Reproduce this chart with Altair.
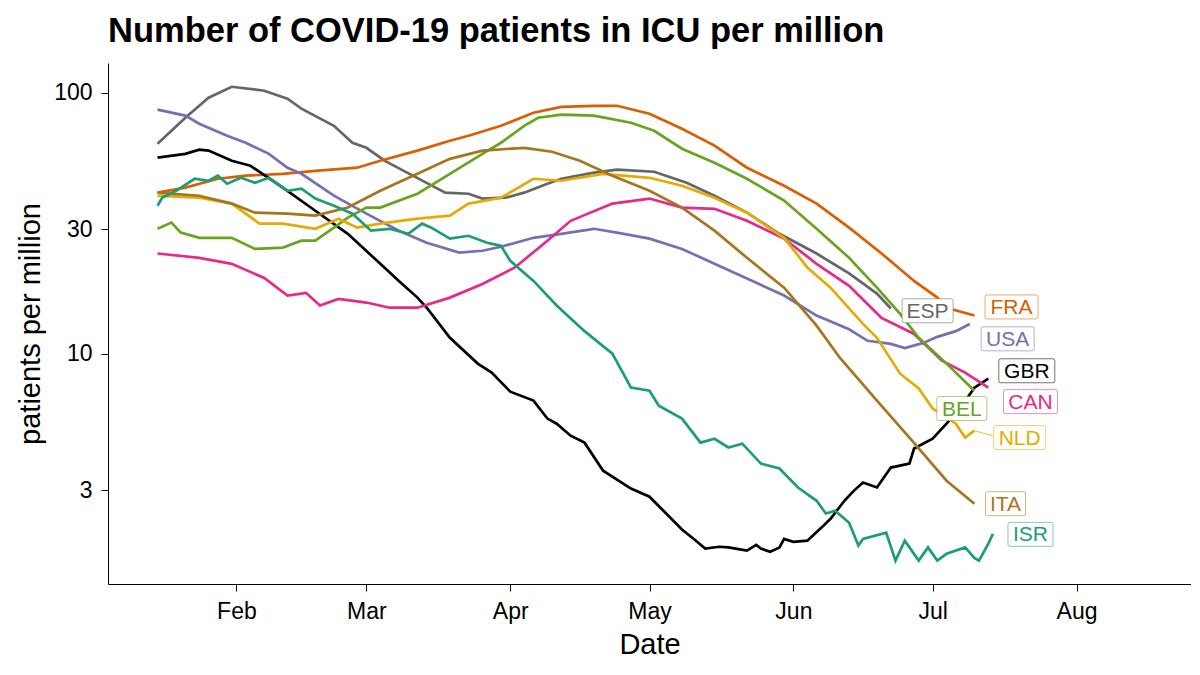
import altair as alt
import pandas as pd

countries = ["ESP", "FRA", "USA", "GBR", "CAN", "BEL", "NLD", "ITA", "ISR"]
colors = ["#666666", "#d95f02", "#7570b3", "#000000", "#e7298a", "#66a61e", "#e6ab02", "#a6761d", "#1b9e77"]

esp_dates = ["2021-01-15", "2021-01-21", "2021-01-26", "2021-01-31", "2021-02-07", "2021-02-12", "2021-02-15",
             "2021-02-22", "2021-02-26", "2021-03-01", "2021-03-05", "2021-03-11", "2021-03-18", "2021-03-23",
             "2021-03-26", "2021-03-31", "2021-04-04", "2021-04-09", "2021-04-12", "2021-04-19", "2021-04-24",
             "2021-05-02", "2021-05-09", "2021-05-15", "2021-05-22", "2021-05-29", "2021-06-06", "2021-06-13",
             "2021-06-19", "2021-06-22"]
esp_vals = [63.8, 80.2, 95.7, 105.4, 101.8, 94.9, 86.9, 74.7, 64.3, 61.5, 54.8, 48.1, 41.4, 41.0, 39.3, 39.6,
            41.4, 44.8, 46.8, 49.4, 50.7, 49.8, 45.2, 40.3, 34.7, 28.8, 24.2, 20.3, 17.0, 14.9]

usa_dates = ["2021-01-15", "2021-01-21", "2021-01-24", "2021-01-30", "2021-02-03", "2021-02-08", "2021-02-12",
             "2021-02-15", "2021-02-22", "2021-03-01", "2021-03-08", "2021-03-14", "2021-03-21", "2021-03-26",
             "2021-03-30", "2021-04-06", "2021-04-12", "2021-04-19", "2021-04-24", "2021-05-01", "2021-05-08",
             "2021-05-15", "2021-05-22", "2021-05-30", "2021-06-06", "2021-06-13", "2021-06-17", "2021-06-22",
             "2021-06-25", "2021-06-29", "2021-07-02", "2021-07-06", "2021-07-09"]
usa_vals = [86.1, 81.7, 76.1, 68.4, 64.3, 58.3, 51.6, 48.9, 40.3, 34.4, 29.6, 26.6, 24.4, 24.8, 25.7, 27.8,
            28.8, 30.1, 29.1, 27.6, 25.2, 22.1, 19.4, 16.7, 14.0, 12.4, 11.2, 10.9, 10.5, 11.0, 11.6, 12.2, 13.0]

fra_dates = ["2021-01-15", "2021-01-21", "2021-01-28", "2021-02-03", "2021-02-11", "2021-02-18", "2021-02-27",
             "2021-03-04", "2021-03-12", "2021-03-19", "2021-03-23", "2021-03-30", "2021-04-06", "2021-04-12",
             "2021-04-19", "2021-04-24", "2021-05-01", "2021-05-08", "2021-05-15", "2021-05-22", "2021-05-30",
             "2021-06-06", "2021-06-13", "2021-06-20", "2021-06-27", "2021-07-02", "2021-07-04", "2021-07-10"]
fra_vals = [41.4, 43.3, 46.8, 48.1, 48.9, 50.2, 51.6, 54.9, 60.0, 65.5, 68.4, 74.7, 83.8, 88.3, 89.1, 89.1,
            83.1, 72.8, 62.7, 51.6, 44.0, 37.6, 30.4, 24.2, 19.0, 16.4, 15.0, 14.0]

bel_dates = ["2021-01-15", "2021-01-18", "2021-01-20", "2021-01-24", "2021-01-31", "2021-02-05", "2021-02-11",
             "2021-02-15", "2021-02-18", "2021-02-22", "2021-02-25", "2021-03-01", "2021-03-04", "2021-03-12",
             "2021-03-19", "2021-03-26", "2021-03-30", "2021-04-04", "2021-04-07", "2021-04-12", "2021-04-19",
             "2021-04-27", "2021-05-02", "2021-05-08", "2021-05-15", "2021-05-22", "2021-05-30", "2021-06-06",
             "2021-06-13", "2021-06-19", "2021-06-24", "2021-06-28", "2021-07-04", "2021-07-10"]
bel_vals = [30.1, 31.8, 29.1, 27.8, 27.8, 25.2, 25.5, 27.1, 27.1, 30.4, 33.2, 36.3, 36.3, 41.0, 48.9, 58.3,
            64.3, 74.7, 80.2, 82.4, 81.7, 76.7, 71.5, 61.0, 53.9, 46.8, 38.6, 30.1, 23.3, 17.9, 14.2, 11.5,
            9.16, 7.21]

ita_dates = ["2021-01-15", "2021-01-24", "2021-01-31", "2021-02-05", "2021-02-12", "2021-02-18", "2021-02-25",
             "2021-03-04", "2021-03-12", "2021-03-19", "2021-03-26", "2021-04-04", "2021-04-10", "2021-04-16",
             "2021-04-23", "2021-05-01", "2021-05-08", "2021-05-15", "2021-05-22", "2021-05-30", "2021-06-06",
             "2021-06-11", "2021-06-19", "2021-06-26", "2021-07-04", "2021-07-10"]
ita_vals = [41.4, 40.3, 37.6, 34.7, 34.4, 33.8, 36.3, 42.1, 48.9, 55.8, 60.0, 61.5, 59.4, 54.9, 48.1, 42.1,
            36.3, 29.6, 23.3, 17.9, 12.8, 9.65, 6.61, 4.77, 3.26, 2.66]

nld_dates = ["2021-01-15", "2021-01-24", "2021-01-31", "2021-02-06", "2021-02-11", "2021-02-18", "2021-02-23",
             "2021-02-27", "2021-03-04", "2021-03-12", "2021-03-19", "2021-03-23", "2021-03-30", "2021-04-06",
             "2021-04-12", "2021-04-21", "2021-05-01", "2021-05-08", "2021-05-15", "2021-05-22", "2021-05-30",
             "2021-06-04", "2021-06-09", "2021-06-16", "2021-06-19", "2021-06-24", "2021-06-28", "2021-07-01",
             "2021-07-06", "2021-07-08", "2021-07-10"]
nld_vals = [40.3, 39.6, 37.6, 31.5, 31.5, 30.1, 32.9, 30.4, 31.5, 32.9, 33.8, 37.6, 39.6, 46.8, 46.0, 48.9,
            47.2, 44.0, 39.6, 34.7, 27.8, 21.4, 17.9, 13.0, 11.5, 8.38, 7.35, 6.16, 5.39, 4.77, 5.07]

can_dates = ["2021-01-15", "2021-01-24", "2021-01-31", "2021-02-07", "2021-02-12", "2021-02-16", "2021-02-19",
             "2021-02-23", "2021-03-01", "2021-03-06", "2021-03-12", "2021-03-19", "2021-03-26", "2021-04-02",
             "2021-04-09", "2021-04-14", "2021-04-23", "2021-05-01", "2021-05-08", "2021-05-15", "2021-05-22",
             "2021-05-30", "2021-06-06", "2021-06-13", "2021-06-20", "2021-06-27", "2021-07-03", "2021-07-08",
             "2021-07-13"]
can_vals = [24.2, 23.3, 22.1, 19.5, 16.7, 17.1, 15.3, 16.2, 15.7, 15.0, 15.0, 16.4, 18.5, 21.4, 27.1, 32.3,
            37.6, 39.3, 36.3, 35.9, 32.3, 27.6, 22.1, 18.2, 13.7, 11.9, 9.40, 8.46, 7.41]

gbr_dates = ["2021-01-15", "2021-01-21", "2021-01-24", "2021-01-26", "2021-01-31", "2021-02-04", "2021-02-11",
             "2021-02-18", "2021-02-25", "2021-03-04", "2021-03-08", "2021-03-12", "2021-03-14", "2021-03-19",
             "2021-03-25", "2021-03-28", "2021-04-01", "2021-04-06", "2021-04-09", "2021-04-11", "2021-04-14",
             "2021-04-17", "2021-04-21", "2021-04-27", "2021-05-01", "2021-05-04", "2021-05-08", "2021-05-11",
             "2021-05-13", "2021-05-16", "2021-05-18", "2021-05-22", "2021-05-24", "2021-05-25", "2021-05-27",
             "2021-05-29", "2021-05-30", "2021-06-01", "2021-06-04", "2021-06-07", "2021-06-09", "2021-06-12",
             "2021-06-14", "2021-06-16", "2021-06-19", "2021-06-22", "2021-06-26", "2021-06-27", "2021-07-01",
             "2021-07-04", "2021-07-07", "2021-07-10", "2021-07-13"]
gbr_vals = [56.4, 58.3, 60.5, 60.0, 54.9, 52.5, 43.3, 35.3, 28.8, 22.1, 19.0, 16.4, 15.0, 11.5, 9.16, 8.46,
            7.15, 6.61, 5.64, 5.39, 4.85, 4.56, 3.56, 3.04, 2.83, 2.50, 2.12, 1.92, 1.79, 1.82, 1.81, 1.76,
            1.85, 1.79, 1.74, 1.81, 1.95, 1.90, 1.92, 2.15, 2.33, 2.73, 2.98, 3.21, 3.07, 3.66, 3.79, 4.33,
            4.72, 5.39, 6.21, 7.41, 8.02]

isr_dates = ["2021-01-15", "2021-01-16", "2021-01-19", "2021-01-23", "2021-01-26", "2021-01-28", "2021-01-30",
             "2021-02-02", "2021-02-05", "2021-02-08", "2021-02-12", "2021-02-15", "2021-02-18", "2021-02-22",
             "2021-02-26", "2021-03-02", "2021-03-06", "2021-03-10", "2021-03-13", "2021-03-15", "2021-03-19",
             "2021-03-23", "2021-03-27", "2021-03-30", "2021-04-01", "2021-04-06", "2021-04-11", "2021-04-17",
             "2021-04-23", "2021-04-27", "2021-05-01", "2021-05-03", "2021-05-08", "2021-05-12", "2021-05-15",
             "2021-05-18", "2021-05-21", "2021-05-25", "2021-05-29", "2021-06-02", "2021-06-06", "2021-06-08",
             "2021-06-10", "2021-06-13", "2021-06-15", "2021-06-16", "2021-06-21", "2021-06-23", "2021-06-25",
             "2021-06-28", "2021-06-30", "2021-07-02", "2021-07-04", "2021-07-08", "2021-07-10", "2021-07-11",
             "2021-07-13", "2021-07-14"]
isr_vals = [36.9, 39.6, 42.1, 46.8, 46.0, 48.1, 44.8, 47.2, 45.2, 47.2, 42.1, 42.9, 39.3, 36.9, 34.4, 29.6,
            30.1, 28.8, 31.5, 30.4, 27.6, 28.3, 26.6, 25.9, 22.7, 19.0, 15.3, 12.2, 10.0, 7.41, 7.21, 6.32,
            5.64, 4.56, 4.72, 4.37, 4.52, 3.79, 3.63, 3.07, 2.73, 2.44, 2.50, 2.25, 1.84, 1.95, 2.06, 1.61,
            1.92, 1.61, 1.81, 1.61, 1.71, 1.81, 1.65, 1.61, 1.87, 2.04]

# end-of-line labels
label_names = ["FRA", "USA", "GBR", "CAN", "NLD", "BEL", "ESP", "ITA", "ISR"]
label_dates = ["2021-07-18T00:00", "2021-07-17T04:00", "2021-07-21T07:00", "2021-07-22T02:00",
               "2021-07-19T18:00", "2021-07-07T07:00", "2021-06-29T22:00", "2021-07-16T17:00",
               "2021-07-22T02:00"]
label_vals = [15.1, 11.4, 8.6, 6.55, 4.77, 6.16, 14.6, 2.66, 2.03]

# short leader from the NLD line to its label
nld_leader_dates = ["2021-07-10", "2021-07-14"]
nld_leader_vals = [5.07, 4.84]

series = {
    "ESP": (esp_dates, esp_vals), "FRA": (fra_dates, fra_vals), "USA": (usa_dates, usa_vals),
    "GBR": (gbr_dates, gbr_vals), "CAN": (can_dates, can_vals), "BEL": (bel_dates, bel_vals),
    "NLD": (nld_dates, nld_vals), "ITA": (ita_dates, ita_vals), "ISR": (isr_dates, isr_vals),
}
rows = []
for code, (ds, vs) in series.items():
    assert len(ds) == len(vs), code
    for d, v in zip(ds, vs):
        rows.append({"country": code, "date": pd.Timestamp(d), "value": v})
df = pd.DataFrame(rows)

# label box geometry (style only)
box_width = {"FRA": 53, "USA": 53, "GBR": 56, "CAN": 54, "NLD": 52, "BEL": 50, "ESP": 51, "ITA": 40, "ISR": 45}
BOX_H = 24


def box_path(w):
    h = BOX_H / w          # half-height in unit coords (scale = w/2)
    r = 4.0 / w            # corner radius
    return (f"M{-1 + r},{-h} L{1 - r},{-h} Q1,{-h} 1,{-h + r} L1,{h - r} Q1,{h} {1 - r},{h} "
            f"L{-1 + r},{h} Q-1,{h} -1,{h - r} L-1,{-h + r} Q-1,{-h} {-1 + r},{-h} Z")


lab = pd.DataFrame({
    "country": label_names,
    "date": pd.to_datetime(label_dates),
    "value": label_vals,
})
lab["shape"] = [box_path(box_width[c]) for c in label_names]
lab["bsize"] = [box_width[c] ** 2 for c in label_names]

leader = pd.DataFrame({"country": ["NLD"], "date": [pd.Timestamp(nld_leader_dates[0])],
                       "date2": [pd.Timestamp(nld_leader_dates[1])],
                       "value": [nld_leader_vals[0]], "value2": [nld_leader_vals[1]]})

FONT = "Liberation Sans"
cscale = alt.Scale(domain=countries, range=colors)

x_enc = alt.X(
    "date:T",
    scale=alt.Scale(domain=[alt.DateTime(year=2021, month=1, date=4, hours=8),
                            alt.DateTime(year=2021, month=8, date=25, hours=16)], nice=False),
    axis=alt.Axis(values=[alt.DateTime(year=2021, month=m, date=1) for m in range(2, 9)],
                  format="%b", title="Date", grid=False, tickSize=7, labelPadding=9, titlePadding=7),
)
y_enc = alt.Y(
    "value:Q",
    scale=alt.Scale(type="log", domain=[1.31, 130], nice=False),
    axis=alt.Axis(values=[3, 10, 30, 100], title="patients per million", grid=False,
                  tickSize=7, labelPadding=9, titlePadding=8, format="~g"),
)

lines = alt.Chart(df).mark_line(strokeWidth=2.7).encode(
    x=x_enc, y=y_enc,
    color=alt.Color("country:N", scale=cscale, legend=None),
    detail="country:N",
)

lead = alt.Chart(leader).mark_rule(strokeWidth=0.8).encode(
    x="date:T", x2="date2:T", y="value:Q", y2="value2:Q",
    color=alt.Color("country:N", scale=cscale, legend=None),
)

boxes = alt.Chart(lab).mark_point(fill="white", fillOpacity=1, opacity=1, strokeWidth=1, strokeOpacity=0.55).encode(
    x="date:T", y="value:Q",
    shape=alt.Shape("shape:N", scale=None),
    size=alt.Size("bsize:Q", scale=None),
    stroke=alt.Stroke("country:N", scale=cscale, legend=None),
)

texts = alt.Chart(lab).mark_text(font=FONT, fontSize=21, align="center", baseline="middle", dy=1).encode(
    x="date:T", y="value:Q", text="country:N",
    color=alt.Color("country:N", scale=cscale, legend=None),
)

chart = alt.layer(lines, lead, boxes, texts).properties(
    width=1083, height=521,
    padding={"left": 8, "top": 5, "right": 0, "bottom": 5},
    title=alt.TitleParams("Number of COVID-19 patients in ICU per million", anchor="start", frame="group",
                          font=FONT, fontSize=34.5, fontWeight="bold", color="black", offset=14),
).configure_view(stroke=None).configure_axis(
    domainColor="black", tickColor="black", labelColor="black", titleColor="black",
    labelFont=FONT, titleFont=FONT, labelFontSize=23, titleFontSize=29, titleFontWeight="normal",
    domainWidth=1, tickWidth=1,
)

chart.save("out.html", embed_options={"renderer": "svg", "actions": False})
